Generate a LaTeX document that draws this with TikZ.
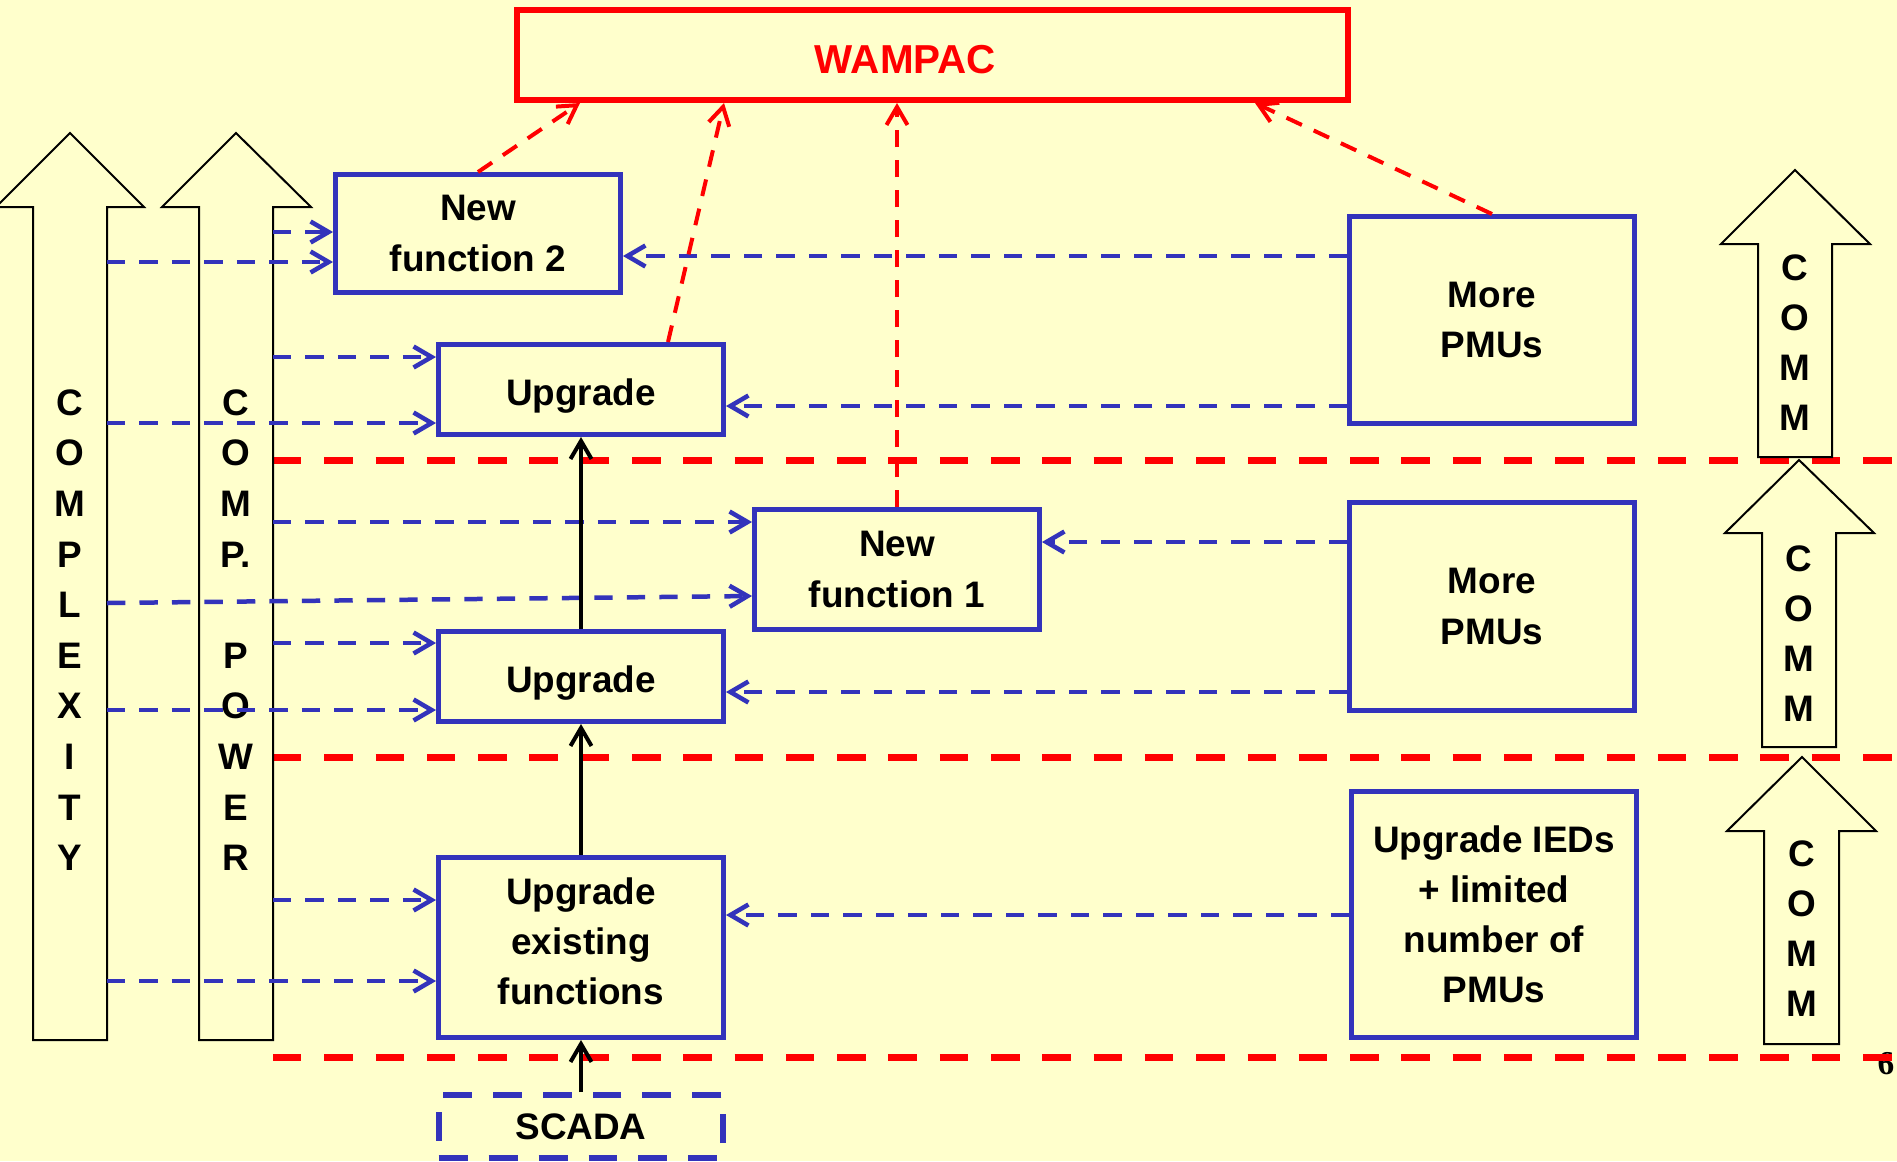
\documentclass[tikz,border=0pt]{standalone}
\usepackage{fontspec}
\setmainfont{Liberation Sans}
\newfontfamily\pagenumfont{Liberation Serif}
\usetikzlibrary{arrows.meta}
\definecolor{paleyellow}{RGB}{255,255,204}
\definecolor{boxblue}{RGB}{51,51,187}
\definecolor{wamred}{RGB}{255,0,0}
\newcommand{\diagfont}{\fontsize{21}{28.5}\selectfont\bfseries}
\newcommand{\colfont}{\fontsize{21}{28.8}\selectfont\bfseries}

\begin{document}
\begin{tikzpicture}[
    x=0.02cm, y=-0.02cm,
    bigarrow/.style={draw=black, fill=paleyellow, line width=0.04cm},
    blockbox/.style={draw=boxblue, fill=paleyellow, line width=0.1cm, minimum width=5.7cm, inner sep=0pt, align=center, font=\diagfont},
    onelinebox/.style={blockbox, minimum height=1.8cm, text height=0.63cm, text depth=0pt},
    scadabox/.style={blockbox, line width=0.12cm, dash pattern=on 0.58cm off 0.42cm},
    topbox/.style={draw=wamred, line width=0.12cm, minimum width=16.62cm, minimum height=1.8cm},
    toplab/.style={text=wamred, font=\fontsize{23}{28}\selectfont\bfseries},
    letters/.style={align=center, inner sep=0pt, font=\colfont},
    commlet/.style={align=center, inner sep=0pt, font=\diagfont},
    levelline/.style={draw=wamred, line width=0.14cm, dash pattern=on 0.57cm off 0.456cm},
    bluelink/.style={draw=boxblue, line width=0.09cm, dash pattern=on 0.366cm off 0.284cm, -{Straight Barb[length=0.36cm,width=0.42cm]}},
    redlink/.style={draw=wamred, line width=0.08cm, dash pattern=on 0.34cm off 0.26cm, -{Straight Barb[length=0.36cm,width=0.42cm]}},
    uplink/.style={draw=black, line width=0.08cm, -{Straight Barb[length=0.36cm,width=0.42cm]}}
]
\useasboundingbox (0,0) rectangle (1897,1161);
\fill[paleyellow] (0,0) rectangle (1897,1161);

\node[font=\pagenumfont\fontsize{19}{22}\selectfont\bfseries, inner sep=0pt] (pagenum) at (1886,1064) {6};

% level separators
\draw[levelline] (273,460) -- (1897,460);
\draw[levelline] (273,757) -- (1897,757);
\draw[levelline] (273,1057) -- (1897,1057);

% big arrows on the left
\draw[bigarrow] (33,1040) -- (33,207) -- (-4,207) -- (70,133) -- (144,207) -- (107,207) -- (107,1040) -- cycle;
\draw[bigarrow] (199,1040) -- (199,207) -- (162,207) -- (236,133) -- (311,207) -- (273,207) -- (273,1040) -- cycle;
\node[letters] (cplx) at (70,630) {C\\O\\M\\P\\L\\E\\X\\I\\T\\Y};
\node[letters] (cpow) at (236,630) {C\\O\\M\\P.\\~\\P\\O\\W\\E\\R};

% comm arrows on the right
\draw[bigarrow] (1758,457) -- (1758,244) -- (1721,244) -- (1795,170) -- (1870,244) -- (1832,244) -- (1832,457) -- cycle;
\draw[bigarrow] (1762,747) -- (1762,533) -- (1725,533) -- (1799,460) -- (1874,533) -- (1836,533) -- (1836,747) -- cycle;
\draw[bigarrow] (1764,1044) -- (1764,831) -- (1727,831) -- (1802,757) -- (1876,831) -- (1839,831) -- (1839,1044) -- cycle;
\node[commlet] (comma) at (1795,342.5) {C\\O\\M\\M};
\node[commlet] (commb) at (1799,633.5) {C\\O\\M\\M};
\node[commlet] (commc) at (1802,928.5) {C\\O\\M\\M};

% boxes
\node[topbox] (wampac) at (932.5,55) {};
\node[toplab] (wampaclab) at (905.5,60) {WAMPAC};

\node[blockbox, minimum height=2.36cm] (nf2) at (478,233.5) {New\\function 2};
\node[onelinebox] (upg1) at (581,389.5) {Upgrade};
\node[blockbox, minimum height=2.4cm] (nf1) at (897,569.5) {New\\function 1};
\node[onelinebox] (upg2) at (581,676.5) {Upgrade};
\node[blockbox, minimum height=3.6cm, text depth=0.24cm] (uef) at (581,947.5) {Upgrade\\existing\\functions};
\node[scadabox, minimum height=1.26cm] (scada) at (581,1126.5) {SCADA};

\node[blockbox, minimum height=4.14cm] (pmu1) at (1492,320) {More\\PMUs};
\node[blockbox, minimum height=4.16cm] (pmu2) at (1492,606.5) {More\\PMUs};
\node[blockbox, minimum height=4.92cm] (ied) at (1494,914.5) {Upgrade IEDs\\+ limited\\number of\\PMUs};

% start points on the arrows
\coordinate (pw1) at (273,232);
\coordinate (cx1) at (107,262);
\coordinate (pw2) at (273,357);
\coordinate (cx2) at (107,423);
\coordinate (pw3) at (273,522);
\coordinate (cx3) at (107,603);
\coordinate (pw4) at (273,643);
\coordinate (cx4) at (107,710);
\coordinate (pw5) at (273,900);
\coordinate (cx5) at (107,981);

\draw[bluelink] (pw1) -- (nf2.west |- pw1);
\draw[bluelink] (cx1) -- (nf2.west |- cx1);
\draw[bluelink] (pw2) -- (upg1.west |- pw2);
\draw[bluelink] (cx2) -- (upg1.west |- cx2);
\draw[bluelink] (pw3) -- (nf1.west |- pw3);
\draw[bluelink] (cx3) -- (nf1.west |- 0,596);
\draw[bluelink] (pw4) -- (upg2.west |- pw4);
\draw[bluelink] (cx4) -- (upg2.west |- cx4);
\draw[bluelink] (pw5) -- (uef.west |- pw5);
\draw[bluelink] (cx5) -- (uef.west |- cx5);

\draw[bluelink] (pmu1.west |- 0,256) -- (nf2.east |- 0,256);
\draw[bluelink] (pmu1.west |- 0,406) -- (upg1.east |- 0,406);
\draw[bluelink] (pmu2.west |- 0,542) -- (nf1.east |- 0,542);
\draw[bluelink] (pmu2.west |- 0,692) -- (upg2.east |- 0,692);
\draw[bluelink] (ied.west |- 0,915) -- (uef.east |- 0,915);

% towards WAMPAC
\draw[redlink] (nf2.north) -- (wampac.south -| 580,0);
\draw[redlink] (upg1.north -| 668,0) -- (wampac.south -| 724,0);
\draw[redlink] (nf1.north) -- (wampac.south -| nf1.north);
\draw[redlink] (pmu1.north) -- (wampac.south -| 1255,0);

\draw[uplink] (upg2.north) -- (upg1.south);
\draw[uplink] (uef.north) -- (upg2.south);
\draw[uplink] (scada.north) -- (uef.south);

\end{tikzpicture}
\end{document}
